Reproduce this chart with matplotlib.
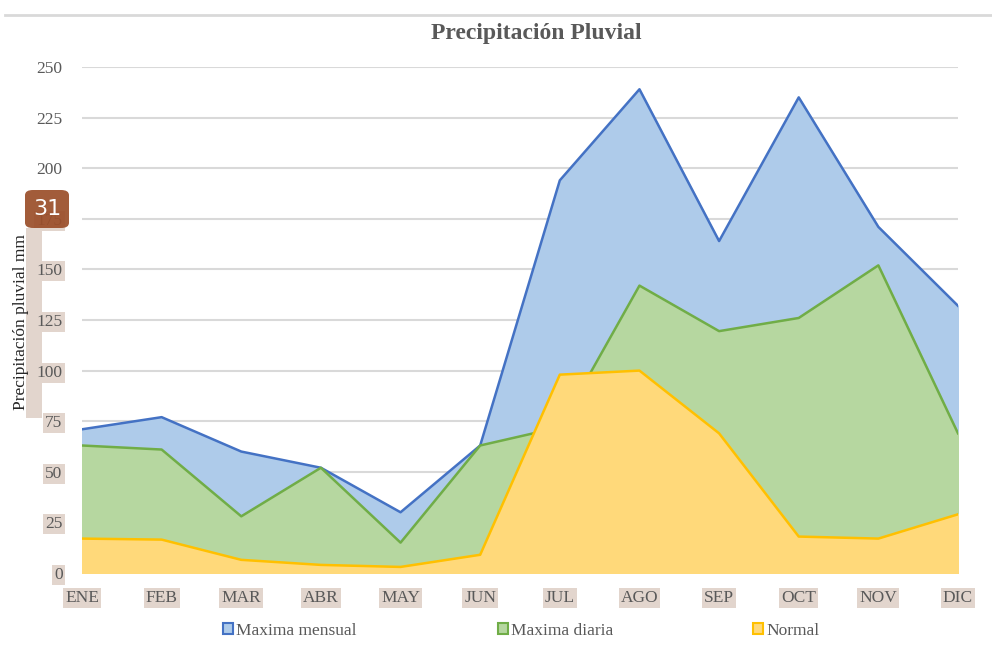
import matplotlib.pyplot as plt
from matplotlib.patches import Patch, FancyBboxPatch, Rectangle
from matplotlib.lines import Line2D
import numpy as np

### data
meses = ["ENE", "FEB", "MAR", "ABR", "MAY", "JUN", "JUL", "AGO", "SEP", "OCT", "NOV", "DIC"]
maxima_mensual = [71, 77, 60, 52, 30, 63, 194, 239, 164, 235, 171, 132]
maxima_diaria = [63, 61, 28, 52, 15, 63, 72, 142, 119.5, 126, 152, 69]
normal = [17, 16.5, 6.5, 4, 3, 9, 98, 100, 69, 18, 17, 29]
yticks = [0, 25, 50, 75, 100, 125, 150, 175, 200, 225, 250]
series_names = ["Maxima mensual", "Maxima diaria", "Normal"]

### colours (excel style)
azul_fill, azul_line = "#aecbea", "#4472c4"
verde_fill, verde_line = "#b6d7a0", "#70ad47"
amar_fill, amar_line = "#ffd97a", "#ffc000"
gris = "#595959"
beige = "#e2d5cd"

plt.rcParams["font.family"] = ["Liberation Serif", "DejaVu Serif"]

fig = plt.figure(figsize=(9.92, 6.48), dpi=100)
ax = fig.add_axes([82 / 992, 1 - 573 / 648, (958 - 82) / 992, (573 - 67) / 648], zorder=1)

x = np.arange(len(meses))
ax.fill_between(x, maxima_mensual, color=azul_fill, zorder=2)
ax.plot(x, maxima_mensual, color=azul_line, lw=1.8, zorder=2)
ax.fill_between(x, maxima_diaria, color=verde_fill, zorder=3)
ax.plot(x, maxima_diaria, color=verde_line, lw=1.8, zorder=3)
ax.fill_between(x, normal, color=amar_fill, zorder=4)
ax.plot(x, normal, color=amar_line, lw=1.8, zorder=4)

ax.set_xlim(0, 11)
ax.set_ylim(0, 250)
ax.set_yticks(yticks)
ax.set_xticks(x)
ax.set_xticklabels(meses)
ax.grid(axis="y", color="#d9d9d9", lw=1.5, zorder=0)
ax.set_axisbelow(True)
for s in ax.spines.values():
    s.set_visible(False)
ax.tick_params(axis="both", length=0, colors=gris, labelsize=12.5)
ax.tick_params(axis="y", pad=14)
ax.tick_params(axis="x", pad=12)

### beige highlights behind the labels
for lab in ax.get_xticklabels():
    lab.set_bbox(dict(facecolor=beige, edgecolor="none", pad=1.5))
for lab in ax.get_yticklabels()[:8]:
    lab.set_bbox(dict(facecolor=beige, edgecolor="none", pad=1.5))

ax.set_title("Precipitación Pluvial", fontsize=17, fontweight="bold", color=gris, pad=20,
             x=(536 - 82) / 876)

fig.patches.append(Rectangle((26 / 992, 1 - 418 / 648), 16 / 992, 190 / 648,
                             transform=fig.transFigure, facecolor=beige, edgecolor="none", zorder=-1))
fig.text(21.5 / 992, 1 - 322 / 648, "Precipitación pluvial mm", rotation=90, ha="center", va="center",
         fontsize=12.5, color="#262626", zorder=2)

### top frame line
fig.add_artist(Line2D([5 / 992, 1], [1 - 15 / 648, 1 - 15 / 648], transform=fig.transFigure,
                      color="#d9d9d9", lw=2))

### badge
fig.patches.append(FancyBboxPatch((25 / 992, 1 - 228 / 648), 44 / 992, 38 / 648,
                                  boxstyle="round,pad=0,rounding_size=0.008",
                                  transform=fig.transFigure, facecolor="#9b4f2b", edgecolor="none",
                                  alpha=0.93, zorder=5))
fig.text(47 / 992, 1 - 209 / 648, "31", ha="center", va="center", fontsize=16, color="white",
         family="DejaVu Sans", zorder=6)

### legend: one entry per position
handles = [Patch(facecolor=azul_fill, edgecolor=azul_line, lw=1.5),
           Patch(facecolor=verde_fill, edgecolor=verde_line, lw=1.5),
           Patch(facecolor=amar_fill, edgecolor=amar_line, lw=1.5)]
leg_x = [223, 498, 753]
for h, name, px in zip(handles, series_names, leg_x):
    leg = fig.legend(handles=[h], labels=[name], loc="center left", bbox_to_anchor=(px / 992, 1 - 631 / 648),
                     frameon=False, fontsize=12.5, handlelength=0.6, handleheight=0.6, handletextpad=0.15,
                     borderpad=0, borderaxespad=0)
    for t in leg.get_texts():
        t.set_color(gris)

fig.savefig("out.png", dpi=100)
